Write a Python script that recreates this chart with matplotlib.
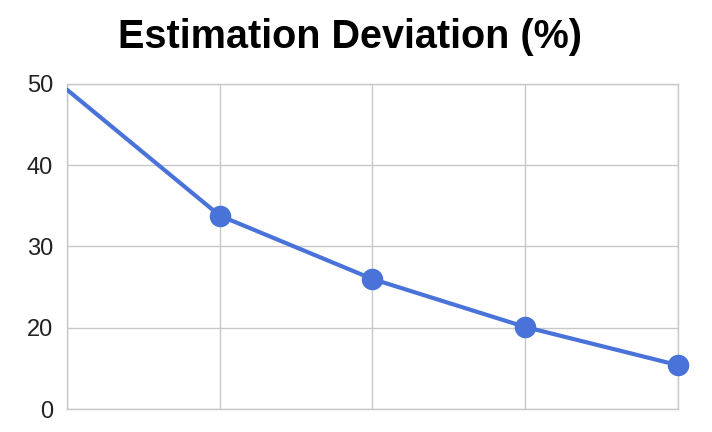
import matplotlib
matplotlib.use("Agg")
import matplotlib.pyplot as plt

# data
steps = [0, 1, 2, 3, 4]
deviation = [49.3, 33.8, 26.0, 20.1, 15.4]
ytick_vals = [10, 20, 30, 40, 50]
ytick_labels = ["0", "20", "30", "40", "50"]

plt.rcParams['font.family'] = ['Liberation Sans', 'DejaVu Sans']

fig = plt.figure(figsize=(7.12, 4.32), dpi=100)
ax = fig.add_axes([0.0941, 0.0532, 0.858, 0.7524])

blue = '#4a73d9'
ax.plot(steps, deviation, color=blue, lw=3.0, solid_capstyle='round', zorder=3)
# first point has no marker
ax.plot(steps[1:], deviation[1:], 'o', color=blue, ms=14.5, zorder=4, clip_on=False)

ax.set_xlim(0, 4)
ax.set_ylim(10, 50)
ax.set_xticks(steps)
ax.set_xticklabels([])
ax.set_yticks(ytick_vals)
ax.set_yticklabels(ytick_labels, fontsize=17, color='#222222')
ax.tick_params(length=0, pad=10)
ax.grid(True, color='#c8c8c8', lw=1.0)
for s in ax.spines.values():
    s.set_color('#c8c8c8')
    s.set_linewidth(1.0)
ax.set_axisbelow(True)

fig.text(0.492, 0.914, "Estimation Deviation (%)", ha='center', va='center',
         fontsize=28.5, fontweight='bold', color='black')

fig.savefig("out.png", dpi=100)
